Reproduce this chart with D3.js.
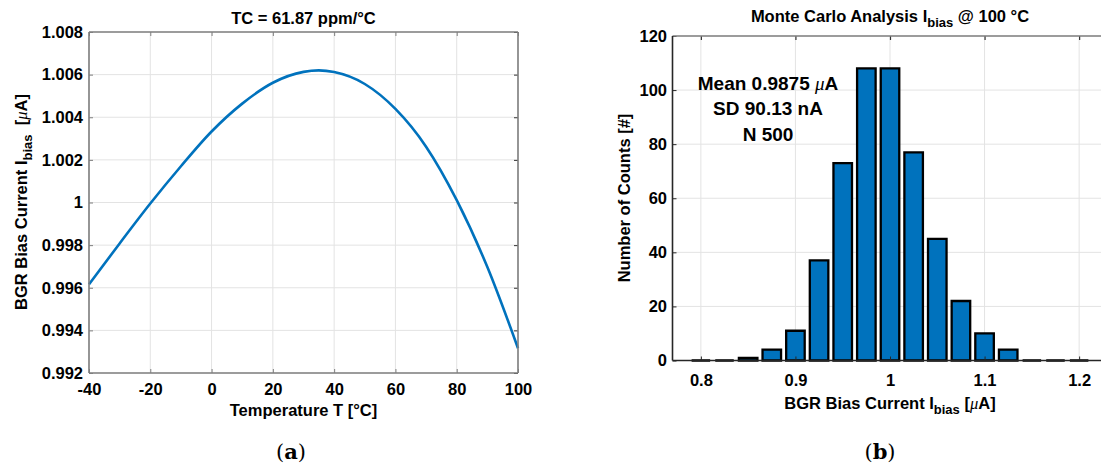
<!DOCTYPE html>
<html>
<head>
<meta charset="utf-8">
<script src="https://cdn.jsdelivr.net/npm/d3@7"></script>
<style>
    body { margin: 0; background: #fff; }
    svg { display: block; font-family: "Liberation Sans", Arial, sans-serif; }
    .tick text { font-size: 16.5px; font-weight: bold; fill: #000; }
    .grid line { stroke: #e3e3e3; stroke-width: 1; }
</style>
</head>
<body>
<svg id="fig" width="1101" height="468"></svg>
<script>
// (a) temperature sweep of the bias current
var temperature = [-40, -30, -20, -10, 0, 10, 20, 30, 35, 40, 50, 60, 70, 80, 90, 100]
var biasCurrent = [0.99616, 0.99808, 0.99995, 1.00170, 1.00333, 1.00464, 1.00562, 1.00613, 1.00620, 1.00612, 1.00556, 1.00439, 1.00262, 1.00011, 0.99697, 0.99316]
var tempTicks = [-40, -20, 0, 20, 40, 60, 80, 100]
var currentTicks = [0.992, 0.994, 0.996, 0.998, 1, 1.002, 1.004, 1.006, 1.008]

// (b) Monte Carlo histogram
var binCenters = [0.8, 0.825, 0.85, 0.875, 0.9, 0.925, 0.95, 0.975, 1.0, 1.025, 1.05, 1.075, 1.1, 1.125, 1.15, 1.175, 1.2]
var binCounts = [0, 0, 1, 4, 11, 37, 73, 108, 108, 77, 45, 22, 10, 4, 0, 0, 0]
var histXTicks = [0.8, 0.9, 1, 1.1, 1.2]
var histYTicks = [0, 20, 40, 60, 80, 100, 120]
var statsLines = ['Mean 0.9875 ', 'SD 90.13 nA', 'N 500']

var blue = '#0072BD'
var svg = d3.select('#fig')

function styleAxis(g, color, width) {
    g.attr('font-family', null).attr('font-size', null)
    g.select('.domain').remove()
    g.selectAll('.tick line').attr('stroke', color).attr('stroke-width', width)
}

function box(g, x0, x1, y0, y1, colors) {
    // top, right, bottom, left
    g.append('line').attr('x1', x0).attr('x2', x1).attr('y1', y0).attr('y2', y0).attr('stroke', colors[0]).attr('stroke-width', 1.6)
    g.append('line').attr('x1', x1).attr('x2', x1).attr('y1', y0).attr('y2', y1).attr('stroke', colors[1]).attr('stroke-width', 1.6)
    g.append('line').attr('x1', x0).attr('x2', x1).attr('y1', y1).attr('y2', y1).attr('stroke', colors[2]).attr('stroke-width', 1.6)
    g.append('line').attr('x1', x0).attr('x2', x0).attr('y1', y0).attr('y2', y1).attr('stroke', colors[3]).attr('stroke-width', 1.6)
}

function microAmp(t) {
    t.append('tspan').attr('font-family', '"Liberation Serif", serif').attr('font-style', 'italic').attr('font-weight', 'normal').text('μ')
    t.append('tspan').text('A')
}

// ---------- chart (a) ----------
var xA = d3.scaleLinear().domain([-40, 100]).range([89, 518])
var yA = d3.scaleLinear().domain([0.992, 1.008]).range([373, 32])
var a = svg.append('g').attr('id', 'chart-a')

var gridA = a.append('g').attr('class', 'grid')
gridA.selectAll('line.v').data(tempTicks).enter().append('line')
    .attr('x1', xA).attr('x2', xA).attr('y1', yA.range()[1]).attr('y2', yA.range()[0])
gridA.selectAll('line.h').data(currentTicks).enter().append('line')
    .attr('x1', xA.range()[0]).attr('x2', xA.range()[1]).attr('y1', yA).attr('y2', yA)

a.append('path')
    .datum(temperature.map(function (t, i) { return [t, biasCurrent[i]] }))
    .attr('fill', 'none')
    .attr('stroke', blue)
    .attr('stroke-width', 2.6)
    .attr('d', d3.line().x(function (d) { return xA(d[0]) }).y(function (d) { return yA(d[1]) }).curve(d3.curveMonotoneX))

var axisGray = '#7f7f7f'
a.append('g').attr('transform', 'translate(0,' + yA.range()[0] + ')')
    .call(d3.axisBottom(xA).tickValues(tempTicks).tickSize(-4).tickPadding(10).tickFormat(function (d) { return String(d) }))
    .call(styleAxis, axisGray, 1)
a.append('g').attr('transform', 'translate(0,' + yA.range()[1] + ')')
    .call(d3.axisTop(xA).tickValues(tempTicks).tickSize(-4).tickFormat(''))
    .call(styleAxis, axisGray, 1)
a.append('g').attr('transform', 'translate(' + xA.range()[0] + ',0)')
    .call(d3.axisLeft(yA).tickValues(currentTicks).tickSize(-4).tickPadding(6).tickFormat(function (d) { return d === 1 ? '1' : d3.format('.3f')(d) }))
    .call(styleAxis, axisGray, 1)
a.append('g').attr('transform', 'translate(' + xA.range()[1] + ',0)')
    .call(d3.axisRight(yA).tickValues(currentTicks).tickSize(-4).tickFormat(''))
    .call(styleAxis, '#333', 1)
box(a, xA.range()[0], xA.range()[1], yA.range()[1], yA.range()[0], [axisGray, axisGray, axisGray, axisGray])

a.append('text').attr('x', 303.5).attr('y', 24).attr('text-anchor', 'middle')
    .attr('font-size', '16.5px').attr('font-weight', 'bold').text('TC = 61.87 ppm/°C')
a.append('text').attr('x', 303.5).attr('y', 416).attr('text-anchor', 'middle')
    .attr('font-size', '16.5px').attr('font-weight', 'bold').text('Temperature T [°C]')

var yLabA = a.append('text').attr('transform', 'translate(27,202) rotate(-90)').attr('text-anchor', 'middle')
    .attr('font-size', '16.5px').attr('font-weight', 'bold')
yLabA.append('tspan').text('BGR Bias Current I')
yLabA.append('tspan').attr('font-size', '13px').attr('dy', 5).text('bias')
yLabA.append('tspan').attr('dy', -5).attr('xml:space', 'preserve').text('\u00a0\u00a0[')
microAmp(yLabA)
yLabA.append('tspan').text(']')

// ---------- chart (b) ----------
var xB = d3.scaleLinear().domain([0.77, 1.23]).range([672.5, 1107.5])
var yB = d3.scaleLinear().domain([0, 120]).range([360.5, 36])
var b = svg.append('g').attr('id', 'chart-b')

var gridB = b.append('g').attr('class', 'grid')
gridB.selectAll('line.v').data(histXTicks).enter().append('line')
    .attr('x1', xB).attr('x2', xB).attr('y1', yB.range()[1]).attr('y2', yB.range()[0])
gridB.selectAll('line.h').data(histYTicks).enter().append('line')
    .attr('x1', xB.range()[0]).attr('x2', xB.range()[1]).attr('y1', yB).attr('y2', yB)

var barHalf = 0.0098
b.append('g').attr('id', 'bars').selectAll('path')
    .data(binCenters.map(function (c, i) { return [c, binCounts[i]] }))
    .enter().append('path')
    .attr('d', function (d) {
        var x0 = xB(d[0] - barHalf), x1 = xB(d[0] + barHalf), y0 = yB(0), y1 = yB(d[1])
        return 'M' + x0 + ',' + y0 + 'V' + y1 + 'H' + x1 + 'V' + y0 + 'Z'
    })
    .attr('fill', blue)
    .attr('stroke', '#000')
    .attr('stroke-width', 2.3)

b.append('g').attr('transform', 'translate(0,' + yB.range()[0] + ')')
    .call(d3.axisBottom(xB).tickValues(histXTicks).tickSize(-4).tickPadding(14).tickFormat(function (d) { return d === 1 ? '1' : d3.format('.1f')(d) }))
    .call(styleAxis, '#262626', 1)
b.append('g').attr('transform', 'translate(0,' + yB.range()[1] + ')')
    .call(d3.axisTop(xB).tickValues(histXTicks).tickSize(-4).tickFormat(''))
    .call(styleAxis, '#333', 1.2)
b.append('g').attr('transform', 'translate(' + xB.range()[0] + ',0)')
    .call(d3.axisLeft(yB).tickValues(histYTicks).tickSize(-4).tickPadding(5.5))
    .call(styleAxis, '#262626', 1)
box(b, xB.range()[0], xB.range()[1], yB.range()[1], yB.range()[0], [axisGray, axisGray, '#262626', '#262626'])

var titleB = b.append('text').attr('x', 890).attr('y', 21.5).attr('text-anchor', 'middle')
    .attr('font-size', '16.5px').attr('font-weight', 'bold')
titleB.append('tspan').text('Monte Carlo Analysis I')
titleB.append('tspan').attr('font-size', '13px').attr('dy', 5).text('bias')
titleB.append('tspan').attr('dy', -5).text(' @ 100 °C')

var xLabB = b.append('text').attr('x', 890).attr('y', 409).attr('text-anchor', 'middle')
    .attr('font-size', '16.5px').attr('font-weight', 'bold')
xLabB.append('tspan').text('BGR Bias Current I')
xLabB.append('tspan').attr('font-size', '13px').attr('dy', 5).text('bias')
xLabB.append('tspan').attr('dy', -5).text(' [')
microAmp(xLabB)
xLabB.append('tspan').text(']')

b.append('text').attr('transform', 'translate(630,198) rotate(-90)').attr('text-anchor', 'middle')
    .attr('font-size', '16.5px').attr('font-weight', 'bold').text('Number of Counts [#]')

var stats = b.append('g').attr('font-size', '19px').attr('font-weight', 'bold').attr('text-anchor', 'middle')
statsLines.forEach(function (line, i) {
    var t = stats.append('text').attr('x', 768).attr('y', 89.5 + i * 25.5)
    t.append('tspan').text(line)
    if (i === 0) microAmp(t)
})

// sub-figure labels
;[['a', 291], ['b', 880]].forEach(function (l) {
    var t = svg.append('text').attr('x', l[1]).attr('y', 459).attr('text-anchor', 'middle')
        .attr('font-family', '"DejaVu Serif", "Liberation Serif", serif').attr('font-size', '21px')
    t.append('tspan').text('(')
    t.append('tspan').attr('font-weight', 'bold').text(l[0])
    t.append('tspan').text(')')
})
</script>
</body>
</html>
